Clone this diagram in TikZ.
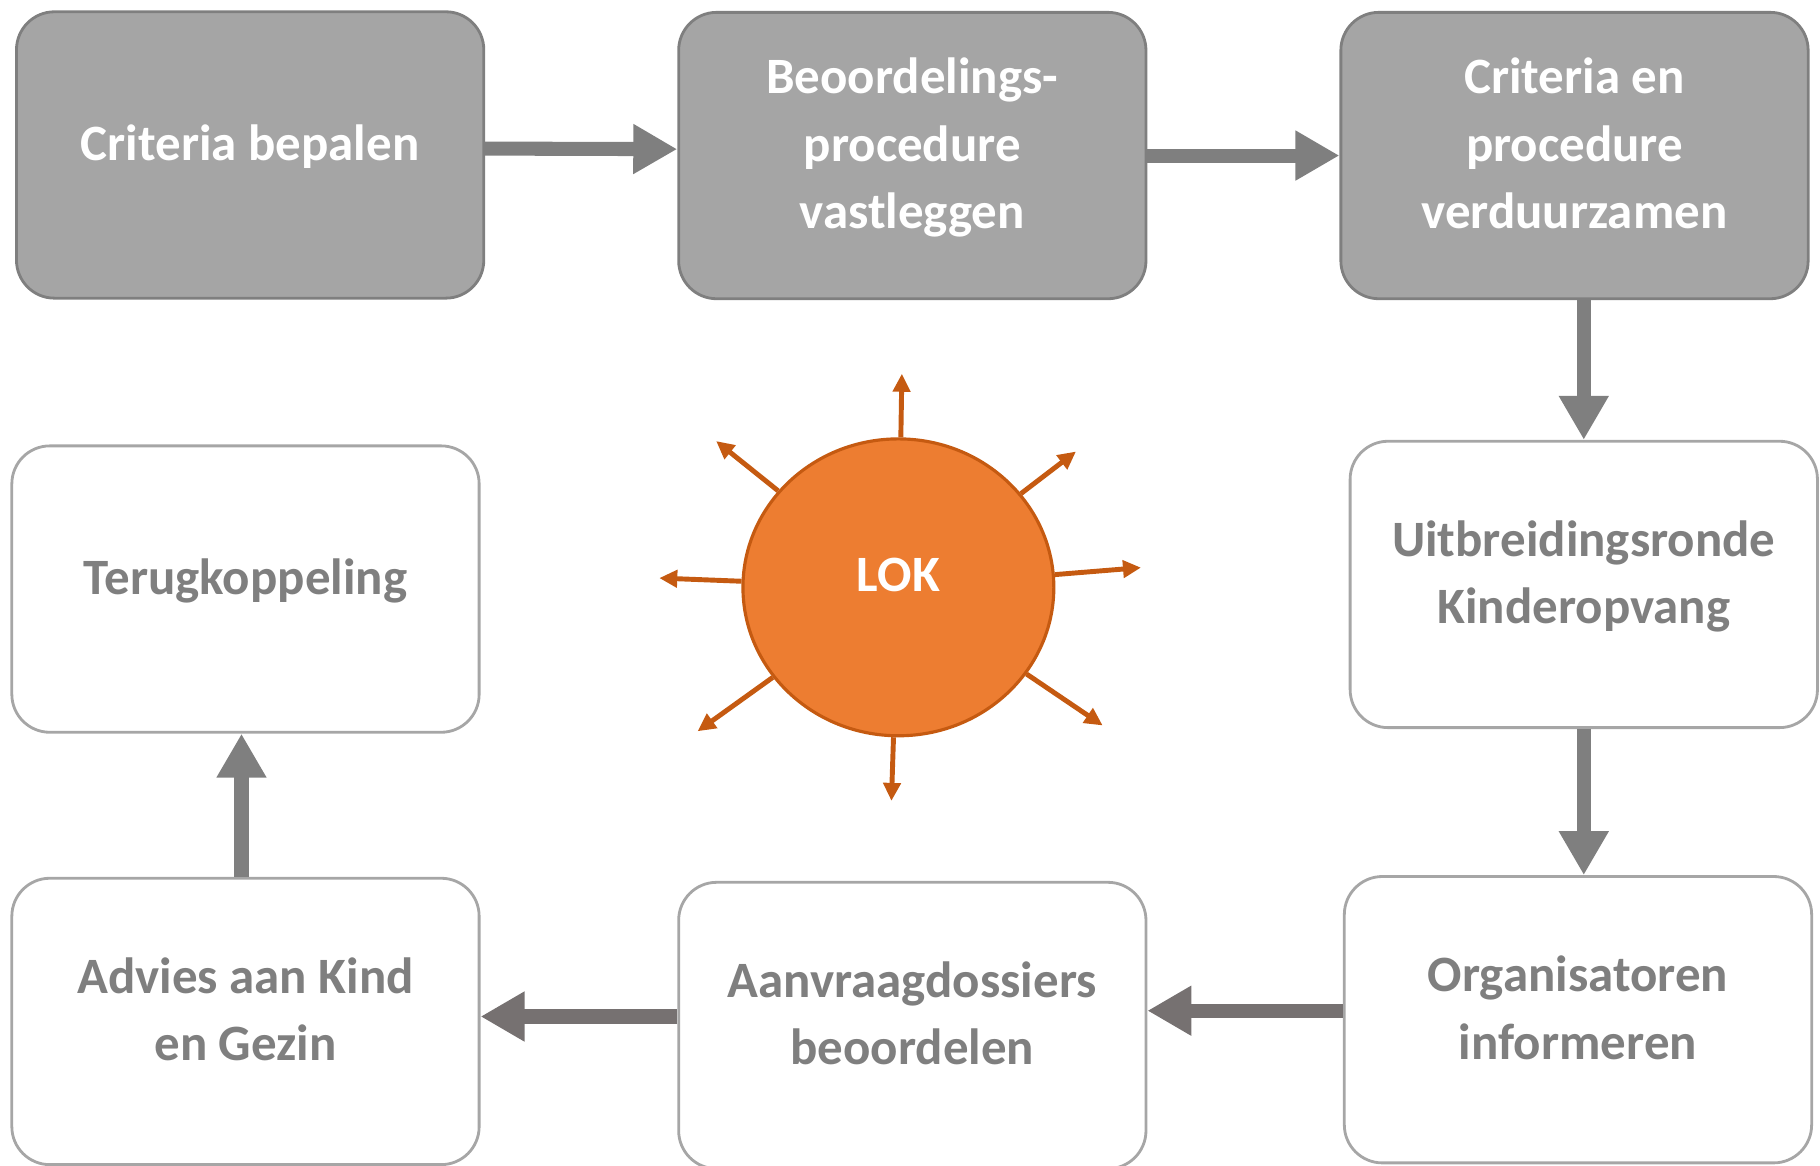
\documentclass[tikz,border=0pt]{standalone}
\usepackage{fontspec}
\setmainfont{Carlito}
\usetikzlibrary{arrows.meta,shapes.geometric}

\definecolor{darkbox}{HTML}{A5A5A5}
\definecolor{darkline}{HTML}{7F7F7F}
\definecolor{lightline}{HTML}{A6A6A6}
\definecolor{greytext}{HTML}{7F7F7F}
\definecolor{flowgrey}{HTML}{7F7F7F}
\definecolor{backgrey}{HTML}{767171}
\definecolor{lokfill}{HTML}{ED7D31}
\definecolor{lokline}{HTML}{C55A11}

\tikzset{
	boxtext/.style={align=center, text depth=7pt, font=\fontsize{14.5}{19.2}\selectfont\bfseries},
	darkstep/.style={boxtext, draw=darkline, fill=darkbox, text=white, line width=0.8pt,
		rounded corners=0.38cm, minimum width=4.675cm, minimum height=2.865cm, inner sep=0pt},
	lightstep/.style={boxtext, draw=lightline, fill=white, text=greytext, line width=0.8pt,
		rounded corners=0.38cm, minimum width=4.675cm, minimum height=2.865cm, inner sep=0pt},
	flow/.style={draw=flowgrey, line width=4pt, -{Triangle[length=0.44cm, width=0.47cm]}},
	flowback/.style={flow, draw=backgrey},
	ray/.style={draw=lokline, line width=1.4pt, -{Triangle[length=0.18cm, width=0.17cm]}}
}

\begin{document}
\begin{tikzpicture}[x=0.011607cm, y=-0.011607cm]
		\useasboundingbox (0,0) rectangle (1568,1004);

		% upper row
		\node[darkstep] (crit) at (215.5,133.5) {Criteria bepalen};
		\node[darkstep] (proc) at (786,134) {Beoordelings-\\procedure\\vastleggen};
		\node[darkstep] (verd) at (1356.5,134) {Criteria en\\procedure\\verduurzamen};

		% right column and lower row
		\node[lightstep] (uitb) at (1364.5,503.5) {Uitbreidingsronde\\Kinderopvang};
		\node[lightstep] (org) at (1359.5,878.5) {Organisatoren\\informeren};
		\node[lightstep] (aanv) at (786,883.5) {Aanvraagdossiers\\beoordelen};
		\node[lightstep] (adv) at (211.5,880) {Advies aan Kind\\en Gezin};
		\node[lightstep] (terug) at (211.5,507.5) {Terugkoppeling};

		\draw[flow] ([yshift=0.064cm]crit.east) -- ([yshift=0.064cm]proc.west);
		\draw[flow] (proc.east) -- (verd.west);
		\draw[flow] (verd.south -| uitb.north) -- (uitb.north);
		\draw[flow] (uitb.south) -- (uitb.south |- org.north);
		\draw[flowback] ([yshift=0.09cm]org.west) -- ([yshift=0.09cm]org.west -| aanv.east);
		\draw[flowback] ([yshift=0.09cm]aanv.west) -- ([yshift=0.09cm]aanv.west -| adv.east);
		\draw[flow] ([xshift=-0.04cm]adv.north) -- ([xshift=-0.04cm]terug.south);

		% LOK in the middle
		\node[ellipse, draw=lokline, fill=lokfill, line width=0.9pt, minimum width=3.11cm,
			minimum height=2.97cm, text=white, boxtext] (lok) at (774,506) {LOK};

		\coordinate (t1) at (777,322);
		\coordinate (t2) at (927,389);
		\coordinate (t3) at (983,489);
		\coordinate (t4) at (950,625);
		\coordinate (t5) at (768,690);
		\coordinate (t6) at (601,630);
		\coordinate (t7) at (568,498);
		\coordinate (t8) at (617,380);
		\draw[ray] (lok) -- (t1);
		\draw[ray] (lok) -- (t2);
		\draw[ray] (lok) -- (t3);
		\draw[ray] (lok) -- (t4);
		\draw[ray] (lok) -- (t5);
		\draw[ray] (lok) -- (t6);
		\draw[ray] (lok) -- (t7);
		\draw[ray] (lok) -- (t8);

	\end{tikzpicture}
\end{document}
